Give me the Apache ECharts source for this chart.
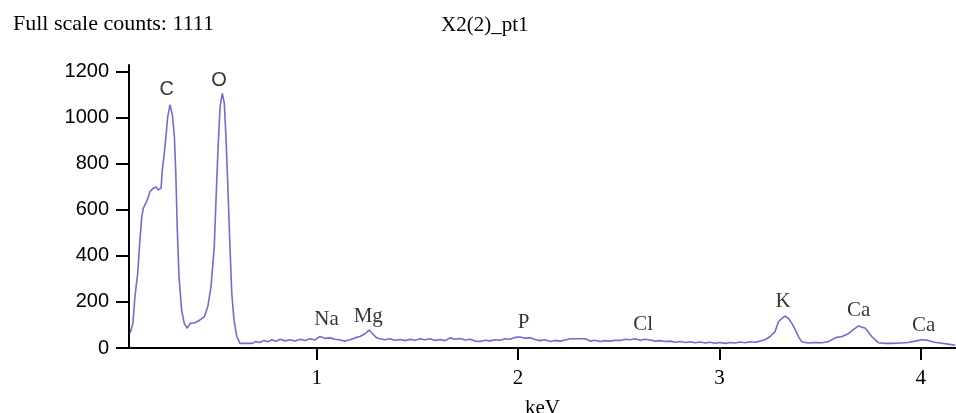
<!DOCTYPE html>
<html>
<head>
<meta charset="utf-8">
<script src="https://cdn.jsdelivr.net/npm/echarts@6/dist/echarts.min.js"></script>
<style>
html,body{margin:0;padding:0;background:#fff;}
#chart{width:956px;height:413px;}
</style>
</head>
<body>
<div id="chart"></div>
<script>
// Spectrum energies (keV) and counts
const energyKeV = [0.073,0.087,0.097,0.111,0.122,0.131,0.139,0.155,0.172,0.188,0.202,0.213,0.227,0.233,0.243,0.251,0.260,0.271,0.283,0.293,0.300,0.307,0.316,0.329,0.342,0.357,0.371,0.395,0.420,0.442,0.459,0.475,0.491,0.501,0.511,0.520,0.531,0.541,0.549,0.558,0.569,0.578,0.589,0.603,0.619,0.679,0.698,0.718,0.738,0.758,0.778,0.797,0.818,0.843,0.867,0.892,0.917,0.942,0.967,0.991,1.016,1.041,1.066,1.091,1.116,1.141,1.165,1.190,1.215,1.240,1.260,1.275,1.295,1.314,1.339,1.364,1.389,1.414,1.439,1.464,1.489,1.513,1.538,1.563,1.588,1.613,1.637,1.662,1.687,1.712,1.737,1.762,1.786,1.811,1.836,1.861,1.886,1.911,1.935,1.960,1.985,2.010,2.035,2.060,2.085,2.109,2.134,2.159,2.184,2.209,2.234,2.259,2.284,2.308,2.333,2.358,2.383,2.407,2.432,2.457,2.482,2.507,2.532,2.557,2.581,2.606,2.631,2.656,2.681,2.706,2.730,2.755,2.780,2.805,2.830,2.855,2.880,2.904,2.929,2.954,2.979,3.003,3.028,3.053,3.078,3.103,3.127,3.152,3.177,3.202,3.227,3.252,3.276,3.293,3.306,3.326,3.341,3.360,3.371,3.385,3.395,3.409,3.441,3.475,3.510,3.543,3.578,3.610,3.640,3.665,3.691,3.709,3.725,3.740,3.757,3.774,3.789,3.823,3.858,3.898,3.937,3.972,4.005,4.037,4.067,4.097,4.136,4.171];
const counts = [64,108,223,326,470,571,608,636,680,694,700,687,695,774,847,919,1006,1057,1013,919,760,527,310,165,107,86,107,110,122,136,180,267,440,672,890,1049,1107,1064,919,716,440,238,122,49,20,20,28,24,33,27,36,29,38,31,36,30,38,33,40,35,50,42,44,38,35,30,36,44,50,62,78,64,46,40,36,40,34,37,32,38,34,40,36,40,33,37,32,44,38,41,35,38,30,28,34,31,36,34,40,38,46,48,42,45,37,32,36,28,33,30,35,40,40,40,40,30,34,28,32,30,34,33,38,36,40,34,38,35,30,32,28,30,25,28,24,27,23,26,22,25,21,24,20,24,22,26,23,27,25,30,36,50,71,114,125,139,130,107,90,64,45,27,22,24,23,28,45,50,62,80,96,90,86,70,49,35,23,20,20,22,24,30,36,33,25,22,17,12];

// Element labels: name, energy (keV), label height (counts)
const elementNames = ['C','O','Na','Mg','P','Cl','K','Ca','Ca'];
const elementEnergy = [0.255,0.515,1.049,1.256,2.027,2.621,3.316,3.691,4.014];
const elementLabelY = [1122,1163,122,139,111,104,204,161,98];

const xTicks = [1,2,3,4];
const yTicks = [0,200,400,600,800,1000,1200];

const titleLeft = 'Full scale counts: 1111';
const titleCenter = 'X2(2)_pt1';
const xName = 'keV';

const lineColor = '#6e6ed2';
const serif = '"Liberation Serif","Times New Roman",serif';
const sans = '"Liberation Sans Narrow","Liberation Sans",Arial,sans-serif';

const chart = echarts.init(document.getElementById('chart'), null, {renderer:'canvas'});
const spectrum = energyKeV.map((e,i)=>[e,counts[i]]);
const labelData = elementNames.map((n,i)=>({
  value:[elementEnergy[i], elementLabelY[i]],
  name:n,
  label: i<2 ? {fontFamily:sans, fontSize:20} : {fontFamily:serif, fontSize:21}
}));

chart.setOption({
  animation:false,
  backgroundColor:'#ffffff',
  title:[
    {text:titleLeft, left:8, top:8, textStyle:{fontFamily:serif, fontSize:22, fontWeight:'normal', color:'#000'}},
    {text:titleCenter, left:436, top:10, textStyle:{fontFamily:serif, fontSize:21, fontWeight:'normal', color:'#000'}}
  ],
  grid:{left:129, right:0, top:65, bottom:65, containLabel:false, outerBoundsMode:'none'},
  xAxis:{
    type:'value', min:0.0676, max:4.175,
    name:xName, nameLocation:'middle', nameGap:50,
    nameTextStyle:{fontFamily:serif, fontSize:21, color:'#000'},
    axisLine:{show:true, onZero:false, lineStyle:{color:'#000', width:2}},
    axisTick:{show:true, inside:false, length:12, lineStyle:{color:'#000', width:2}, customValues:xTicks},
    axisLabel:{fontFamily:serif, fontSize:21, color:'#000', margin:20, customValues:xTicks},
    splitLine:{show:false}
  },
  yAxis:{
    type:'value', min:0, max:1230,
    axisLine:{show:true, lineStyle:{color:'#000', width:2}},
    axisTick:{show:true, inside:false, length:13, lineStyle:{color:'#000', width:2}, customValues:yTicks},
    axisLabel:{fontFamily:sans, fontSize:20, color:'#000', margin:20, customValues:yTicks,
               formatter:v=>String(v)},
    splitLine:{show:false}
  },
  series:[
    {type:'line', data:spectrum, showSymbol:false, symbol:'none',
     lineStyle:{color:lineColor, width:1.6}, silent:true},
    {type:'scatter', data:labelData, symbolSize:0, silent:true,
     label:{show:true, position:'inside', formatter:p=>p.name, color:'#000',
            fontSize:21, fontFamily:serif, align:'center', verticalAlign:'middle'}}
  ]
});
</script>
</body>
</html>
